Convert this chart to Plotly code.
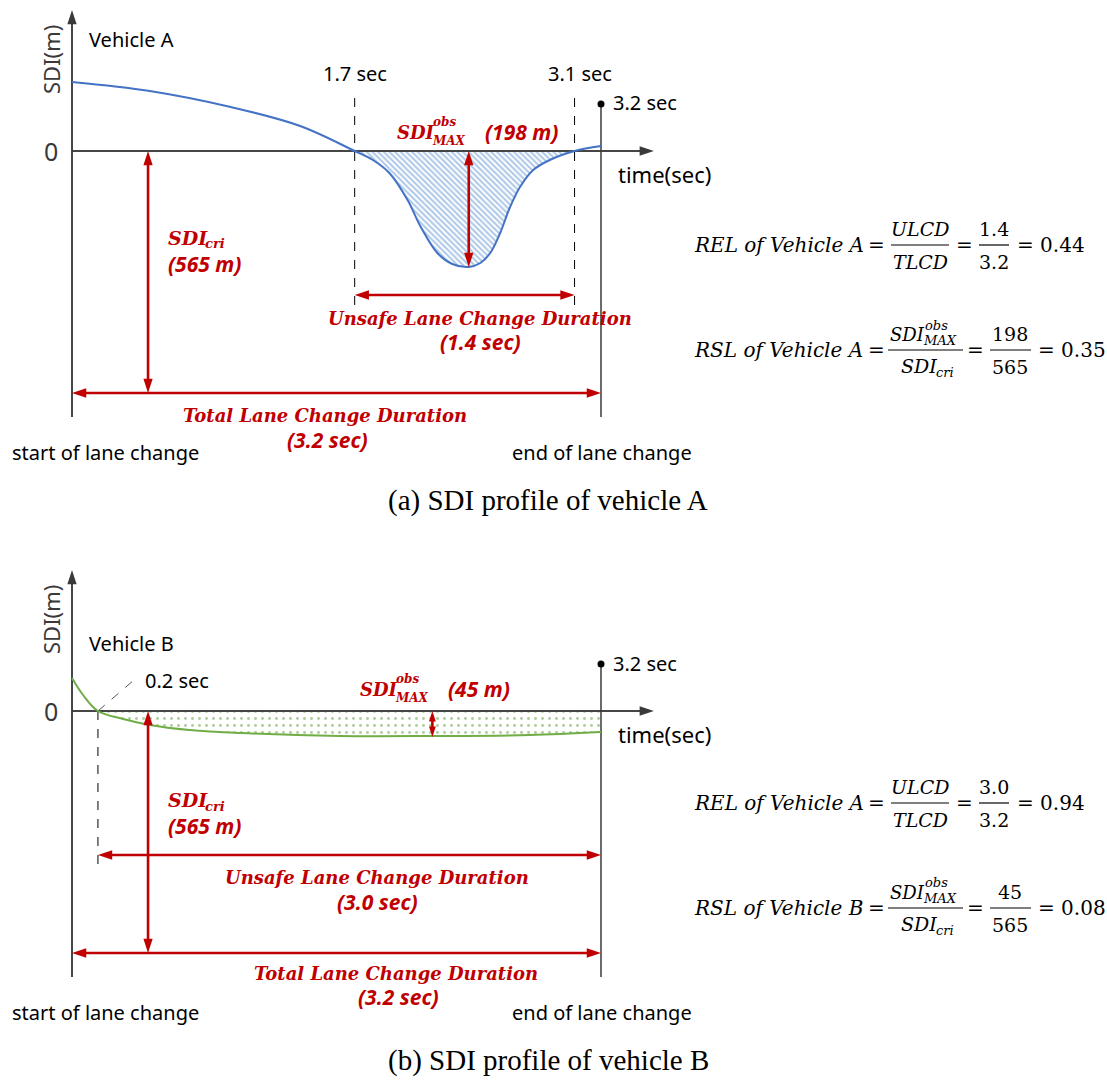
import plotly.graph_objects as go

W, H = 1107, 1080

# ---------------- data (schematic SDI units, 0 = safety boundary) ----------------
time_a = [0, 0.47, 0.96, 1.38, 1.71, 1.82, 1.92, 2.03, 2.11, 2.21, 2.30, 2.40, 2.47,
          2.53, 2.59, 2.65, 2.71, 2.79, 2.89, 3.04, 3.2]
sdi_a = [69, 60, 44, 25, 0, -9, -22, -49, -76, -102, -113, -116, -112,
         -102, -82, -56, -36, -19, -9, 0, 5]

time_b = [0, 0.067, 0.157, 0.31, 0.47, 0.71, 1.02, 1.62, 2.17, 2.77, 3.2]
sdi_b = [33, 16, 0, -8, -14, -19, -22, -25, -25, -24, -21]

total_duration = 3.2
unsafe_a = [1.71, 3.04]          # drawn crossings (1.7 sec, 3.1 sec)
unsafe_b = [0.157, 3.2]          # drawn crossing (0.2 sec) to end
max_a = [2.40, -116]             # SDI_MAX^obs marker (198 m)
max_b = [2.18, -26]              # SDI_MAX^obs marker (45 m)
sdi_cri_level = -242             # SDI_cri (565 m)
cri_time = 0.46
unsafe_level = -144
axis_low, axis_high = -266, 141
time_axis_end = 3.52
end_point_level = 47
guide_top_a, guide_bottom = 53, -154
leader_b = [0.375, 31]

labels_a = ["1.7 sec", "3.1 sec", "3.2 sec"]
labels_b = ["0.2 sec", "3.2 sec"]

RED = "#C00000"
BLUE = "#4472C4"
GREEN = "#70AD47"
AXC = "#3a3a3a"
SANS = "Noto Sans"
SERIF = "DejaVu Serif"
CAP = "Liberation Serif"

# axis mapping: t=0 at px 72, t=3.2 at px 601 ; y units are screen-pixel sized
pps = (601 - 72) / 3.2
xr = [-72 / pps, (W - 72) / pps]

fig = go.Figure()
anns = []
shapes = []


def P(x, y):
    return x / W, 1 - y / H


def txt(s, x, y, size, color="black", family=SANS, xa="left", ya="middle", angle=0):
    X, Y = P(x, y)
    anns.append(dict(text=s, x=X, y=Y, xref="paper", yref="paper", showarrow=False,
                     xanchor=xa, yanchor=ya, textangle=angle,
                     font=dict(size=size, color=color, family=family)))


def axes_of(k):
    return ("x", "y") if k == 1 else ("x2", "y2")


def line(k, xs, ys, color, width, dash="solid"):
    xa, ya = axes_of(k)
    fig.add_trace(go.Scatter(x=xs, y=ys, mode="lines", xaxis=xa, yaxis=ya,
                             line=dict(color=color, width=width, dash=dash),
                             hoverinfo="skip", showlegend=False))


def arrow(k, x0, y0, x1, y1, color, width, size, both=True):
    """straight arrow from (x0,y0) to (x1,y1); head(s) drawn as 'arrow' markers"""
    xa, ya = axes_of(k)
    trim = size * 0.45
    if y0 == y1:
        d = 1 if x1 > x0 else -1
        ang_end = 90 if d > 0 else 270
        lx = [x0 + (d * trim / pps if both else 0), x1 - d * trim / pps]
        ly = [y0, y1]
    else:
        d = 1 if y1 > y0 else -1
        ang_end = 0 if d > 0 else 180
        lx = [x0, x1]
        ly = [y0 + (d * trim if both else 0), y1 - d * trim]
    line(k, lx, ly, color, width)
    hx = [x1, x0] if both else [x1]
    hy = [y1, y0] if both else [y1]
    ang = [ang_end, (ang_end + 180) % 360] if both else [ang_end]
    fig.add_trace(go.Scatter(x=hx, y=hy, mode="markers", xaxis=xa, yaxis=ya,
                             marker=dict(symbol="arrow", size=size, angle=ang, color=color,
                                         line=dict(width=0)),
                             hoverinfo="skip", showlegend=False))


def panel(k, t, v, unsafe, color, pattern, max_pt, guides):
    xa, ya = axes_of(k)
    ft = [a for a, b in zip(t, v) if unsafe[0] <= a <= unsafe[1]]
    fv = [b for a, b in zip(t, v) if unsafe[0] <= a <= unsafe[1]]
    fig.add_trace(go.Scatter(x=ft, y=fv, mode="lines", fill="tozeroy",
                             line=dict(width=0, shape="spline", color=color),
                             fillcolor="rgba(0,0,0,0)", fillpattern=pattern,
                             hoverinfo="skip", showlegend=False, xaxis=xa, yaxis=ya))
    guides()
    line(k, [0, time_axis_end - 0.03], [0, 0], AXC, 1.5)
    line(k, [0, 0], [axis_low, axis_high - 5], AXC, 1.5)
    arrow(k, 0, 0, time_axis_end, 0, AXC, 1.5, 15, both=False)
    arrow(k, 0, axis_low, 0, axis_high, AXC, 1.5, 15, both=False)
    line(k, [total_duration, total_duration], [axis_low, end_point_level], AXC, 1.5)
    fig.add_trace(go.Scatter(x=[total_duration], y=[end_point_level], mode="markers",
                             marker=dict(color="black", size=7), xaxis=xa, yaxis=ya,
                             hoverinfo="skip", showlegend=False))
    fig.add_trace(go.Scatter(x=t, y=v, mode="lines",
                             line=dict(color=color, width=2, shape="spline"),
                             hoverinfo="skip", showlegend=False, xaxis=xa, yaxis=ya))
    small = abs(max_pt[1]) < 60
    arrow(k, max_pt[0], 0, max_pt[0], max_pt[1], RED, 2.6, 11 if small else 15)
    arrow(k, cri_time, 0, cri_time, sdi_cri_level, RED, 2.6, 15)
    arrow(k, unsafe[0], unsafe_level, unsafe[1], unsafe_level, RED, 2.6, 15)
    arrow(k, 0, sdi_cri_level, total_duration, sdi_cri_level, RED, 2.6, 15)


def guides_a():
    for g in unsafe_a:
        line(1, [g, g], [guide_top_a, guide_bottom], "black", 1, "dash")


def guides_b():
    line(2, [unsafe_b[0], unsafe_b[0]], [0, guide_bottom - 8], "black", 1, "dash")
    line(2, [unsafe_b[0], leader_b[0]], [0, leader_b[1]], "#555555", 1, "dash")


panel(1, time_a, sdi_a, unsafe_a, BLUE,
      dict(shape="\\", fgcolor="#5B8FD0", bgcolor="white", size=4, solidity=0.5),
      max_a, guides_a)
panel(2, time_b, sdi_b, unsafe_b, GREEN,
      dict(shape=".", fgcolor="#5E9A3A", bgcolor="white", size=7, solidity=0.14),
      max_b, guides_b)

# ---------------- texts ----------------
SS = 20     # black sans labels
RS = 18     # red serif labels
RN = 21     # red sans labels
panels = [
    dict(off=0, veh="Vehicle A", vy=40, ucl="(1.4 sec)", ucx=480, totx=325,
         cri_y=238, crim_y=264, uy=318, umy=342, ty=415, tmy=440,
         cap="(a) SDI profile of vehicle A", capx=548),
    dict(off=560, veh="Vehicle B", vy=643, ucl="(3.0 sec)", ucx=377, totx=396,
         cri_y=800, crim_y=826, uy=877, umy=902, ty=973, tmy=997,
         cap="(b) SDI profile of vehicle B", capx=548),
]
for p in panels:
    off = p["off"]
    txt("SDI(m)", 51, 60 + off, 22, AXC, SANS, "center", "middle", -90)
    txt(p["veh"], 87, p["vy"], SS)
    txt("0", 51, 151 + off, 25, AXC, SANS, "center")
    txt("time(sec)", 616, 174 + off, 22)
    txt("<b><i>SDI</i></b>", 166, p["cri_y"], RS + 1, RED, SERIF)
    txt("<b><i>cri</i></b>", 203, p["cri_y"] + 6, 13, RED, SERIF)
    txt("<b><i>(565 m)</i></b>", 166, p["crim_y"], RN, RED, SANS)
    txt("<b><i>Unsafe Lane Change Duration</i></b>", p["ucx"], p["uy"], RS, RED, SERIF, "center")
    txt("<b><i>" + p["ucl"] + "</i></b>", p["ucx"], p["umy"], RN, RED, SANS, "center")
    txt("<b><i>Total Lane Change Duration</i></b>", p["totx"], p["ty"], RS, RED, SERIF, "center")
    txt("<b><i>(3.2 sec)</i></b>", p["totx"] + 2, p["tmy"], RN, RED, SANS, "center")
    txt("start of lane change", 10, 452 + off, SS)
    txt("end of lane change", 510, 452 + off, SS)
    txt(p["cap"], p["capx"], 500 + off, 29, "black", CAP, "center")

txt(labels_a[0], 355, 73, SS, "black", SANS, "center")
txt(labels_a[1], 580, 73, SS, "black", SANS, "center")
txt(labels_a[2], 611, 103, SS)
txt(labels_b[0], 143, 680, SS)
txt(labels_b[1], 611, 663, SS)

# SDI_MAX^obs labels
for sx, sy, val in [(395, 132, "(198 m)"), (358, 689, "(45 m)")]:
    txt("<b><i>SDI</i></b>", sx, sy, 18, RED, SERIF)
    txt("<b><i>obs</i></b>", sx + 36, sy - 10, 12, RED, SERIF)
    txt("<b><i>MAX</i></b>", sx + 35, sy + 9, 12, RED, SERIF)
    txt("<b><i>" + val + "</i></b>", sx + 88, sy, RN, RED, SANS)


# ---------------- equations ----------------
def bar(x0, x1, y):
    X0, Y = P(x0, y)
    X1, _ = P(x1, y)
    shapes.append(dict(type="line", xref="paper", yref="paper", x0=X0, x1=X1, y0=Y, y1=Y,
                       line=dict(color="black", width=1.2)))


EL = 20   # equation label size
EF = 19   # fraction size
for y, rel_num, rel_res, veh_b, rsl_num, rsl_res in [
        (245, "1.4", "0.44", "A", "198", "0.35"),
        (803, "3.0", "0.94", "B", "45", "0.08")]:
    txt("<i>REL of Vehicle A</i>", 692, y, EL, "black", SERIF)
    txt("=", 876, y, EL, "black", SERIF, "center")
    txt("<i>ULCD</i>", 920, y - 16, EF, "black", SERIF, "center")
    txt("<i>TLCD</i>", 920, y + 17, EF, "black", SERIF, "center")
    bar(891, 949, y)
    txt("=", 964, y, EL, "black", SERIF, "center")
    txt(rel_num, 994, y - 16, EF, "black", SERIF, "center")
    txt("3.2", 994, y + 17, EF, "black", SERIF, "center")
    bar(979, 1009, y)
    txt("= " + rel_res, 1015, y, EL, "black", SERIF)
    y2 = y + 105
    txt("<i>RSL of Vehicle " + veh_b + "</i>", 692, y2, EL, "black", SERIF)
    txt("=", 876, y2, EL, "black", SERIF, "center")
    txt("<i>SDI</i>", 888, y2 - 16, EF - 1, "black", SERIF)
    txt("<i>obs</i>", 923, y2 - 25, 13, "black", SERIF)
    txt("<i>MAX</i>", 921, y2 - 10, 13, "black", SERIF)
    txt("<i>SDI</i>", 899, y2 + 16, EF, "black", SERIF)
    txt("<i>cri</i>", 934, y2 + 22, 13, "black", SERIF)
    bar(888, 963, y2)
    txt("=", 975, y2, EL, "black", SERIF, "center")
    txt(rsl_num, 1010, y2 - 16, EF, "black", SERIF, "center")
    txt("565", 1010, y2 + 17, EF, "black", SERIF, "center")
    bar(990, 1031, y2)
    txt("= " + rsl_res, 1036, y2, EL, "black", SERIF)

fig.update_layout(
    width=W, height=H, margin=dict(l=0, r=0, t=0, b=0),
    paper_bgcolor="white", plot_bgcolor="white",
    xaxis=dict(domain=[0, 1], range=xr, visible=False, fixedrange=True),
    yaxis=dict(domain=[0.5, 1], range=[151 - 540, 151], visible=False, fixedrange=True),
    xaxis2=dict(domain=[0, 1], range=xr, visible=False, fixedrange=True, anchor="y2"),
    yaxis2=dict(domain=[0, 0.5], range=[711 - 1080, 711 - 540], visible=False,
                fixedrange=True, anchor="x2"),
    annotations=anns, shapes=shapes, showlegend=False,
)

fig.write_html("out.html", config={"displayModeBar": False},
               post_script="document.body.style.margin='0';")
